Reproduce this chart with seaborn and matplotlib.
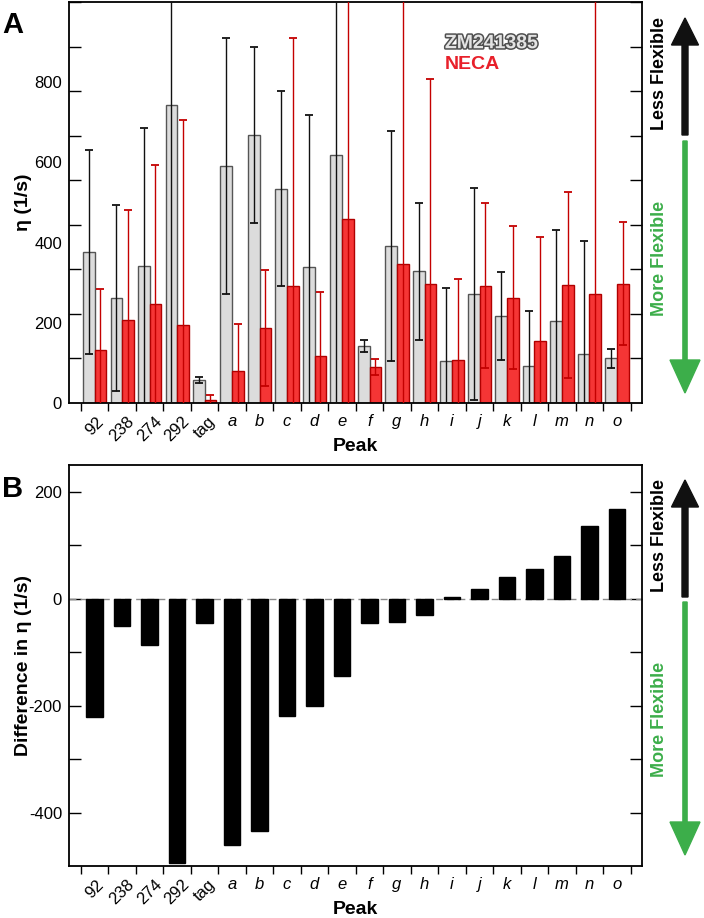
import numpy as np
import pandas as pd
import matplotlib
matplotlib.use("Agg")
import matplotlib.pyplot as plt
import matplotlib.patheffects as pe
from matplotlib.patches import FancyArrow
import seaborn as sns

# ---------------- data ----------------
peaks = ['92', '238', '274', '292', 'tag', 'a', 'b', 'c', 'd', 'e', 'f', 'g',
         'h', 'i', 'j', 'k', 'l', 'm', 'n', 'o']
zm_eta = [377, 261, 341, 742, 58, 591, 669, 534, 338, 618, 142, 392, 329, 104,
          272, 217, 93, 205, 122, 111]
zm_err = [255, 232, 345, 780, 7, 320, 219, 243, 380, 650, 14, 287, 171, 182,
          265, 109, 137, 227, 282, 24]
neca_eta = [133, 206, 247, 194, 7, 80, 187, 292, 117, 459, 90, 346, 296, 108,
            293, 263, 154, 294, 273, 298]
neca_err = [151, 276, 347, 511, 12, 116, 144, 619, 159, 600, 19, 700, 512, 200,
            206, 178, 259, 231, 800, 153]
diff_eta = [-221, -51, -86, -494, -46, -460, -435, -219, -200, -144, -46, -43,
            -31, 4, 19, 41, 56, 81, 136, 168]
ligands = ['ZM241385', 'NECA']

# ---------------- style ----------------
sns.set_style('ticks')
plt.rcParams['font.family'] = ['Liberation Sans', 'DejaVu Sans']
plt.rcParams['axes.linewidth'] = 1.3
plt.rcParams['axes.unicode_minus'] = False
for k in ('text.color', 'axes.labelcolor', 'xtick.color', 'ytick.color',
          'axes.edgecolor'):
    plt.rcParams[k] = 'black'

GRAY_FILL = '#dcdcdc'
GRAY_EDGE = '#555555'
RED_FILL = '#f53535'
RED_EDGE = '#b00000'
RED_ERR = '#c40000'
GREEN = '#3cae4a'

fig = plt.figure(figsize=(7.04, 9.18), dpi=100)
W, H = 704, 918
ax1 = fig.add_axes([69 / W, 1 - 403 / H, 573 / W, 401 / H])
ax2 = fig.add_axes([69 / W, 1 - 866 / H, 573 / W, 400.7 / H])

# ---------------- panel A ----------------
df = pd.DataFrame({
    'Peak': peaks * 2,
    'eta': zm_eta + neca_eta,
    'err': zm_err + neca_err,
    'Ligand': [ligands[0]] * len(peaks) + [ligands[1]] * len(peaks),
})
sns.barplot(data=df, x='Peak', y='eta', hue='Ligand', order=peaks,
            hue_order=ligands, palette=[GRAY_FILL, RED_FILL], width=0.84,
            saturation=1, errorbar=None, legend=False, ax=ax1, zorder=2)

errs = {ligands[0]: zm_err, ligands[1]: neca_err}
edge = {ligands[0]: GRAY_EDGE, ligands[1]: RED_EDGE}
ecol = {ligands[0]: '#111111', ligands[1]: RED_ERR}
for cont, lig in zip(ax1.containers, ligands):
    xs, ys = [], []
    for bar in cont:
        bar.set_edgecolor(edge[lig])
        bar.set_linewidth(1.0)
        xs.append(bar.get_x() + bar.get_width() / 2)
        ys.append(bar.get_height())
    ax1.errorbar(xs, ys, yerr=errs[lig], fmt='none', ecolor=ecol[lig],
                 elinewidth=1.0, capsize=2.6, capthick=1.3, zorder=3)

ax1.set_ylim(0, 1000)
ax1.set_yticks([0, 200, 400, 600, 800])
ax1.set_yticks(np.linspace(0, 1000, 10), minor=True)
ax1.tick_params(axis='y', which='major', length=0, pad=5, labelsize=12)
ax1.tick_params(axis='y', which='minor', direction='in', length=8.5,
                width=1.0, left=True, right=True)
ax1.set_ylabel('η (1/s)', fontsize=14, fontweight='bold')
ax1.yaxis.set_label_coords(-0.065, 0.5)

ax1.text(0.656, 0.896, 'ZM241385', transform=ax1.transAxes, fontsize=14,
         fontweight='bold', color='#e4e4e4', va='center', ha='left',
         path_effects=[pe.Stroke(linewidth=2.2, foreground='#505050'),
                       pe.Normal()])
ax1.text(0.656, 0.843, 'NECA', transform=ax1.transAxes, fontsize=14,
         fontweight='bold', color='#e8202a', va='center', ha='left')

# ---------------- panel B ----------------
sns.barplot(x=peaks, y=diff_eta, order=peaks, color='black', width=0.6,
            saturation=1, errorbar=None, ax=ax2, zorder=2)
for bar in ax2.patches:
    bar.set_edgecolor('black')
ax2.axhline(0, color='#8a8a8a', lw=1.0, ls=(0, (5, 3)), zorder=1)
ax2.set_ylim(-500, 250)
ax2.set_yticks([-400, -200, 0, 200])
ax2.set_yticks([-300, -100, 100], minor=True)
ax2.tick_params(axis='y', which='both', direction='in', length=8.5,
                width=1.0, left=True, right=True, labelsize=12, pad=5)
ax2.set_ylabel('Difference in η (1/s)', fontsize=14, fontweight='bold')
ax2.yaxis.set_label_coords(-0.065, 0.5)

# ---------------- shared x formatting ----------------
for ax in (ax1, ax2):
    ax.set_xlim(-0.93, 19.91)
    ax.set_xticks(range(len(peaks)))
    ax.set_xticks(np.arange(-0.5, len(peaks), 1.0), minor=True)
    ax.tick_params(axis='x', which='major', length=0, pad=8, labelsize=12)
    ax.tick_params(axis='x', which='minor', direction='out', length=6,
                   width=1.0, bottom=True)
    labels = ax.set_xticklabels(peaks)
    for lab, p in zip(labels, peaks):
        if p in ('92', '238', '274', '292', 'tag'):
            lab.set_rotation(45)
            lab.set_ha('center')
        else:
            lab.set_style('italic')
    ax.set_xlabel('Peak', fontsize=14, fontweight='bold')
    ax.xaxis.set_label_coords(0.5, -0.087)
    ax.grid(False)
    for s in ax.spines.values():
        s.set_visible(True)
        s.set_color('black')

# ---------------- panel letters ----------------
fig.text(2 / W, 1 - 25 / H, 'A', fontsize=21, fontweight='bold', va='center')
fig.text(2 / W, 1 - 489 / H, 'B', fontsize=21, fontweight='bold', va='center')

# ---------------- flexibility arrows ----------------
def flex_arrows(y_less_start, y_less_tip, y_more_start, y_more_tip,
                y_less_txt, y_more_txt):
    x = 685 / 100
    t = fig.dpi_scale_trans
    ys = (H - y_less_start) / 100
    yt = (H - y_less_tip) / 100
    fig.add_artist(FancyArrow(x, ys, 0, yt - ys, width=0.06, head_width=0.27,
                              head_length=0.27, length_includes_head=True,
                              color='#111111', transform=t))
    ys = (H - y_more_start) / 100
    yt = (H - y_more_tip) / 100
    fig.add_artist(FancyArrow(x, ys, 0, yt - ys, width=0.042, head_width=0.30,
                              head_length=0.33, length_includes_head=True,
                              color=GREEN, transform=t))
    fig.text(659 / W, 1 - y_less_txt / H, 'Less Flexible', rotation=90,
             fontsize=13, fontweight='bold', color='black', ha='center',
             va='center')
    fig.text(659 / W, 1 - y_more_txt / H, 'More Flexible', rotation=90,
             fontsize=13, fontweight='bold', color=GREEN, ha='center',
             va='center')

flex_arrows(135, 18, 141, 393, 74, 258)
flex_arrows(597, 480, 602, 855, 535, 719)

fig.savefig('out.png', dpi=100)
